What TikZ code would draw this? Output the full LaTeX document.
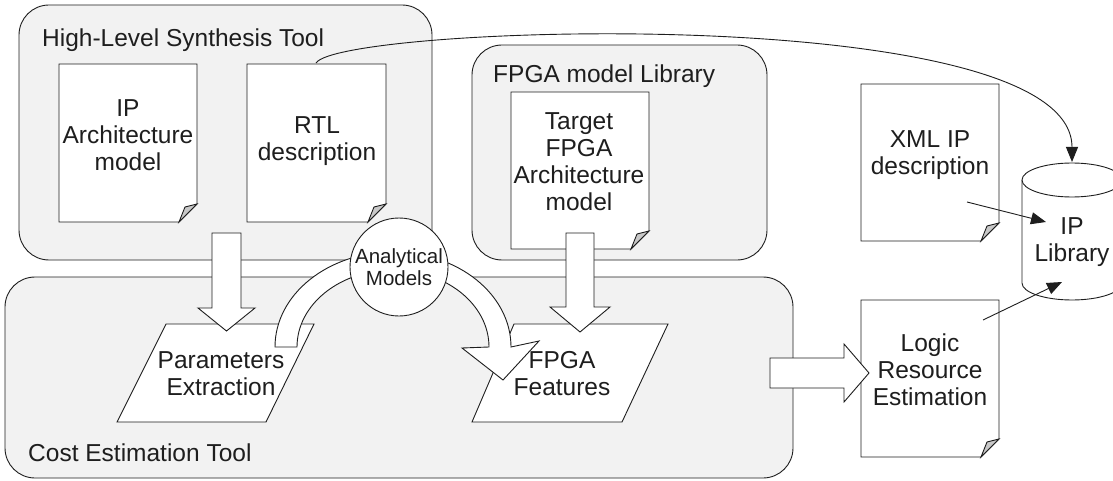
\documentclass[tikz,border=0pt]{standalone}
\usepackage{fontspec}
\setmainfont{Liberation Sans}
\usetikzlibrary{arrows.meta}
\definecolor{boxgray}{RGB}{242,242,242}
\definecolor{foldgray}{RGB}{200,200,200}
\definecolor{ink}{RGB}{30,30,30}
\newcommand{\docpage}[4]{%
  \draw[docline,fill=white] (#1,#2) -- (#3,#2) -- (#3,#4-18) -- (#3-18,#4) -- (#1,#4) -- cycle;
  \draw[docline,fill=foldgray] (#3,#4-18) -- (#3-18,#4) -- (#3-12,#4-15) -- cycle;}
\begin{document}
\begin{tikzpicture}[x=1pt,y=-1pt,
  docline/.style={draw=ink,line width=0.9pt,line join=miter},
  groupbox/.style={draw=ink,line width=0.9pt,fill=boxgray,rounded corners=30pt},
  blockarrow/.style={draw=ink,line width=0.9pt,fill=white,line join=miter},
  txt/.style={inner sep=0pt,align=center,text=ink,font=\fontsize{24.5}{27}\selectfont},
  grouplabel/.style={inner sep=0pt,anchor=base west,text=ink,font=\fontsize{24.5}{27}\selectfont},
  conn/.style={draw=ink,line width=0.9pt,-{Triangle[length=15pt,width=12pt]}}]
\useasboundingbox (0,0) rectangle (1113,481);
% group boxes
\draw[groupbox] (19,5) rectangle (432,260);
\draw[groupbox] (472,45) rectangle (767,260);
\draw[groupbox] (5,277) rectangle (793,478);
\node[grouplabel] (hlsl) at (42,47) {High-Level Synthesis Tool};
\node[grouplabel] (fpgal) at (493,83) {FPGA model Library};
\node[grouplabel] (costl) at (28,461) {Cost Estimation Tool};
% documents
\docpage{59}{64}{197}{222}
\docpage{247}{64}{386}{222}
\docpage{511}{92}{649}{249}
\docpage{861}{84}{999}{241}
\docpage{861}{300}{999}{457}
\node[txt] (ipa) at (128,135) {IP\\Architecture\\model};
\node[txt] (rtl) at (317,141) {RTL\\description};
\node[txt] (tgt) at (579,162) {Target\\FPGA\\Architecture\\model};
\node[txt] (xml) at (930,155) {XML IP\\description};
\node[txt] (lre) at (930,370) {Logic\\Resource\\Estimation};
% parallelograms
\draw[docline,fill=white] (166,324) -- (314,324) -- (266,422) -- (117,422) -- cycle;
\draw[docline,fill=white] (514,324) -- (668,324) -- (622,422) -- (472,422) -- cycle;
\node[txt] (pe) at (221,374) {Parameters\\Extraction};
\node[txt] (ff) at (562,374) {FPGA\\Features};
% block arrows
\draw[blockarrow] (212,233) -- (241,233) -- (241,308) -- (255,308) -- (226.5,331) -- (198,308) -- (212,308) -- cycle;
\draw[blockarrow] (566,233) -- (594,233) -- (594,307) -- (610,307) -- (580,332) -- (550,307) -- (566,307) -- cycle;
\draw[blockarrow] (770,358) -- (844,358) -- (844,344) -- (869,373) -- (844,402) -- (844,388) -- (770,388) -- cycle;
% curved band arrow
\draw[blockarrow] (275,347) arc[start angle=180,end angle=360,x radius=118,y radius=95]
  -- (539,341) -- (503,380) -- (462,348) -- (489,347)
  arc[start angle=0,end angle=-180,x radius=96,y radius=77] -- cycle;
\node[draw=ink,line width=0.9pt,fill=white,circle,minimum size=98pt,inner sep=0pt] (am) at (399,267) {};
\node[txt,font=\fontsize{20.5}{22.5}\selectfont] (amt) at (399,267) {Analytical\\Models};
% cylinder
\draw[docline,fill=white] (1022,180) -- (1022,283) arc[start angle=180,end angle=0,x radius=50,y radius=17] -- (1122,180);
\draw[docline,fill=white] (1072,180) ellipse[x radius=50,y radius=17];
\node[txt] (lib) at (1072,242) {IP\\Library};
% connectors
\coordinate (rtlout) at (316,63);
\coordinate (libtop) at (1072,162);
\coordinate (xmlout) at (967,202);
\coordinate (libin1) at (1046,222);
\coordinate (lreout) at (983,320);
\coordinate (libin2) at (1062,282);
\draw[conn] (rtlout) .. controls (340,25) and (1072,0) .. (libtop);
\draw[conn] (xmlout) -- (libin1);
\draw[conn] (lreout) -- (libin2);
\end{tikzpicture}
\end{document}
